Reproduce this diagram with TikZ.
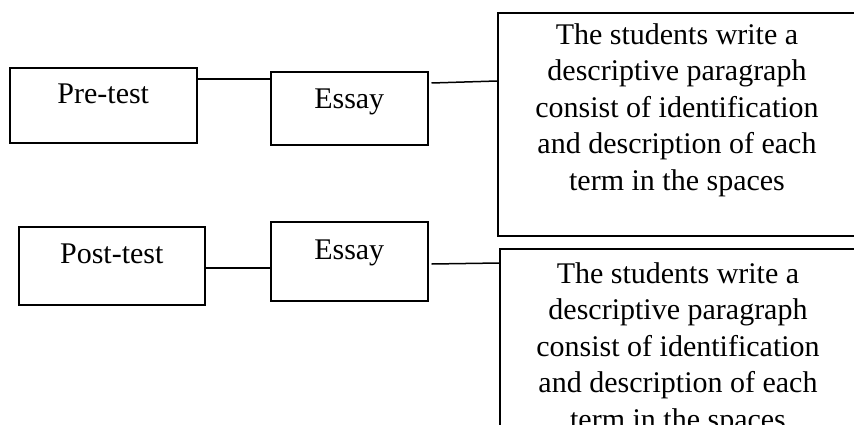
\documentclass[tikz,border=0pt]{standalone}
\usepackage{fontspec}
\setmainfont{Liberation Serif}
\begin{document}
\begin{tikzpicture}[x=1pt,y=-1pt,
  box/.style={draw, line width=1.5pt, inner sep=0pt, rectangle, anchor=north west},
  conn/.style={line width=1.5pt},
  txt/.style={font=\fontsize{30}{36.5}\selectfont},
  para/.style={txt, align=center, inner sep=0pt, anchor=north}]
\useasboundingbox (0,0) rectangle (854,424);
\clip (0,0) rectangle (854,424);
% left column
\node[box, txt, minimum width=187pt, text height=36pt, text depth=39pt] (pre) at (9,67) {Pre-test};
\node[box, txt, minimum width=157pt, text height=37pt, text depth=36pt] (ess1) at (270,71) {Essay};
\node[box, txt, minimum width=186pt, text height=37pt, text depth=41pt] (post) at (18,226) {Post-test};
\node[box, txt, minimum width=157pt, text height=38pt, text depth=41pt] (ess2) at (270,221) {Essay};
% right boxes
\node[box, minimum width=362pt, minimum height=223pt] (d1) at (497,12) {};
\node[para] (t1) at (677,23) {The students write a\\descriptive paragraph\\consist of identification\\and description of each\\term in the spaces};
\node[box, minimum width=362pt, minimum height=250pt] (d2) at (499,248) {};
\node[para] (t2) at (678,262) {The students write a\\descriptive paragraph\\consist of identification\\and description of each\\term in the spaces};
% connectors
\draw[conn] ([yshift=-12pt]pre.north east) -- ([yshift=-12pt]pre.north east -| ess1.west);
\draw[conn] ([xshift=3pt,yshift=-12pt]ess1.north east) -- ([yshift=-69pt]d1.north west);
\draw[conn] ([yshift=-42pt]post.north east) -- ([yshift=-42pt]post.north east -| ess2.west);
\draw[conn] ([xshift=3pt,yshift=-43pt]ess2.north east) -- ([yshift=-15pt]d2.north west);
\end{tikzpicture}
\end{document}
